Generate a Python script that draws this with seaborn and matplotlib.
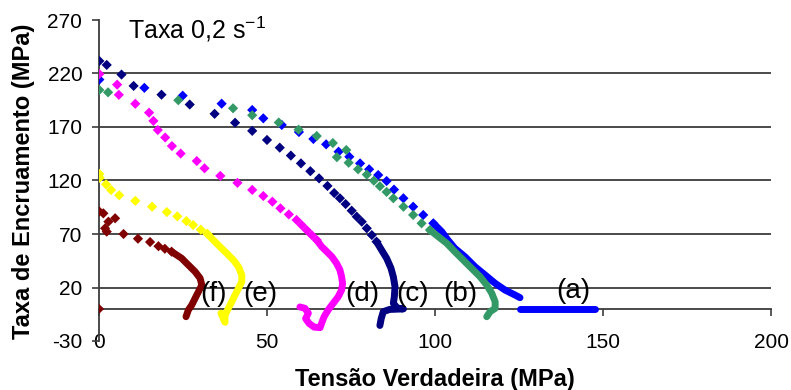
import numpy as np
import pandas as pd
import matplotlib
matplotlib.use("Agg")
import matplotlib.pyplot as plt
import seaborn as sns

# ---------------- data ----------------
series_names = ["(a)", "(b)", "(c)", "(d)", "(e)", "(f)"]
series_colors = ["#0000FF", "#339966", "#000080", "#FF00FF", "#FFFF00", "#800000"]

# (a) blue
a_dots_x = [0.1, 13.5, 24.9, 36.5, 45.6, 48.9, 54.4, 59.5, 63.8, 67.6, 71.3, 74.5, 77.7, 80.4, 83.1,
            85.6, 87.8, 90.6, 93.5, 96.5, 99.5]
a_dots_y = [214.3, 206.6, 199.3, 191.8, 185.9, 178.1, 171.9, 165.3, 158.8, 153.8, 146.9, 142.2, 136.0,
            130.5, 125.1, 119.5, 111.5, 103.4, 95.5, 87.8, 80.0]
a_line_x = [99.5, 102.0, 103.8, 105.9, 108.9, 111.9, 114.9, 117.9, 120.8, 123.8, 125.3]
a_line_y = [80.0, 72.2, 64.5, 56.6, 48.8, 39.4, 31.7, 23.9, 17.7, 13.0, 10.5]
a_flat_x = [125.3, 130.0, 135.5, 141.0, 147.5]
a_flat_y = [0.0, 0.0, 0.0, 0.0, 0.0]

# (b) green
b_dots_x = [0.1, 2.7, 23.6, 39.9, 45.6, 53.5, 59.4, 64.8, 69.6, 73.6, 70.8, 74.3, 77.1, 79.7, 81.8,
            83.6, 85.6, 87.6, 90.6, 93.5, 96.0, 98.5]
b_dots_y = [204.6, 202.4, 195.0, 187.5, 181.0, 174.2, 167.5, 161.6, 155.0, 148.5, 141.8, 136.6, 130.5,
            125.5, 119.8, 114.6, 109.3, 103.4, 95.5, 87.8, 80.0, 73.7]
b_line_x = [98.5, 101.0, 103.5, 105.9, 108.4, 110.9, 113.4, 115.4, 116.9, 117.9, 117.9, 116.4, 115.4]
b_line_y = [73.7, 67.5, 61.3, 53.5, 45.7, 37.9, 30.1, 22.3, 14.6, 6.7, 0.5, -2.6, -7.3]

# (c) navy
c_dots_x = [0.1, 2.3, 6.7, 10.3, 18.6, 27.0, 34.4, 40.5, 45.6, 50.0, 53.8, 57.1, 60.1, 62.9, 65.5,
            68.0, 70.0, 71.7, 73.4, 75.2, 76.7, 78.2, 79.7, 81.2, 82.6]
c_dots_y = [231.7, 228.0, 219.0, 208.4, 200.2, 191.0, 182.3, 174.0, 166.4, 157.9, 150.7, 143.3, 136.0,
            128.7, 122.0, 114.9, 108.3, 103.4, 98.0, 91.8, 86.2, 81.5, 75.3, 69.0, 62.8]
c_line_x = [82.6, 84.1, 85.6, 86.9, 87.6, 88.1, 87.9, 87.6, 88.8, 90.6, 86.5, 84.6, 84.0, 83.6]
c_line_y = [62.8, 55.0, 47.3, 38.0, 30.0, 20.7, 11.4, 5.2, 0.8, 0.0, -0.5, -2.6, -9.0, -15.5]

# (d) magenta
d_dots_x = [0.1, 5.4, 5.9, 10.8, 14.9, 16.2, 17.5, 19.7, 21.7, 24.3, 29.1, 31.4, 36.1, 41.2, 45.6,
            48.9, 51.6, 54.0, 56.5, 58.8, 60.3, 61.8, 63.3, 64.8]
d_dots_y = [219.5, 209.6, 200.1, 191.7, 183.4, 175.7, 167.2, 160.2, 152.2, 145.2, 138.2, 131.4, 124.3,
            117.8, 111.2, 105.5, 100.2, 94.0, 88.3, 83.1, 78.4, 73.7, 69.0, 64.4]
d_line_x = [64.8, 66.3, 67.8, 69.3, 70.7, 71.7, 72.2, 72.5, 72.2, 71.2, 69.7, 68.2, 67.0, 66.3, 65.8,
            64.0, 62.5, 61.5, 62.3, 61.3, 59.8]
d_line_y = [64.4, 58.1, 53.5, 48.8, 42.6, 36.4, 30.1, 23.9, 17.7, 11.4, 5.2, -1.0, -7.3, -13.0, -17.5,
            -17.0, -13.5, -9.0, -4.0, 0.5, 1.8]

# (e) yellow
e_dots_x = [0.1, 0.2, 2.1, 3.6, 6.0, 10.8, 15.8, 20.2, 23.3, 26.0, 28.0, 30.3, 32.2]
e_dots_y = [126.1, 122.5, 116.4, 111.1, 106.2, 101.0, 95.5, 90.5, 86.5, 82.1, 78.4, 74.0, 70.3]
e_line_x = [32.2, 34.0, 36.0, 38.0, 40.0, 41.5, 42.5, 42.5, 41.5, 40.5, 39.5, 38.5, 37.5, 37.5, 36.3]
e_line_y = [70.3, 64.4, 58.1, 52.0, 45.7, 39.4, 31.7, 25.4, 19.2, 13.0, 6.7, 0.5, -5.7, -12.5, -4.0]

# (f) dark red
f_dots_x = [0.0, 0.1, 1.3, 4.8, 2.8, 1.8, 2.3, 7.3, 11.6, 15.2, 17.7, 19.6, 21.6]
f_dots_y = [0.0, 91.0, 89.3, 84.7, 81.5, 75.3, 72.2, 70.0, 65.6, 62.5, 58.6, 56.2, 53.5]
f_line_x = [21.6, 24.6, 26.6, 28.6, 30.1, 30.6, 29.6, 28.6, 27.6, 26.6, 25.9]
f_line_y = [53.5, 47.3, 41.0, 34.8, 28.6, 22.3, 16.1, 9.9, 3.6, -1.0, -7.3]

# curve labels
label_text = ["(a)", "(b)", "(c)", "(d)", "(e)", "(f)"]
label_x = [141.2, 107.4, 93.2, 78.4, 47.9, 34.2]
label_y = [17.0, 14.0, 14.0, 14.0, 14.0, 14.0]

x_ticks = [0, 50, 100, 150, 200]
y_ticks = [-30, 20, 70, 120, 170, 220, 270]

# ---------------- build long-form tables ----------------
dots = {
    "(a)": (a_dots_x, a_dots_y), "(b)": (b_dots_x, b_dots_y), "(c)": (c_dots_x, c_dots_y),
    "(d)": (d_dots_x, d_dots_y), "(e)": (e_dots_x, e_dots_y), "(f)": (f_dots_x, f_dots_y),
}
paths = [
    ("(a)", a_line_x, a_line_y), ("(a)", a_flat_x, a_flat_y),
    ("(b)", b_line_x, b_line_y), ("(c)", c_line_x, c_line_y),
    ("(d)", d_line_x, d_line_y), ("(e)", e_line_x, e_line_y),
    ("(f)", f_line_x, f_line_y),
]
dot_df = pd.concat([pd.DataFrame({"x": v[0], "y": v[1], "serie": k}) for k, v in dots.items()],
                   ignore_index=True)
path_df = pd.concat([pd.DataFrame({"x": px, "y": py, "serie": s, "seg": i})
                     for i, (s, px, py) in enumerate(paths)], ignore_index=True)
palette = dict(zip(series_names, series_colors))

# ---------------- plot ----------------
sns.set_style("white")
plt.rcParams["font.family"] = ["Liberation Sans", "DejaVu Sans"]
plt.rcParams["mathtext.fontset"] = "custom"
plt.rcParams["mathtext.rm"] = "Liberation Sans"
plt.rcParams["mathtext.it"] = "Liberation Sans:italic"
plt.rcParams["mathtext.bf"] = "Liberation Sans:bold"
for key in ["text.color", "axes.labelcolor", "xtick.color", "ytick.color"]:
    plt.rcParams[key] = "black"

fig = plt.figure(figsize=(7.91, 3.90), dpi=100)
ax = fig.add_axes([99 / 791, 49 / 390, 672 / 791, 321 / 390])

grid_col = "#3c3c3c"
for yv in y_ticks[1:-1]:
    ax.axhline(yv, color=grid_col, lw=1.3, zorder=1)

sns.lineplot(data=path_df, x="x", y="y", hue="serie", units="seg", estimator=None, sort=False,
             palette=palette, lw=5.0, legend=False, ax=ax, zorder=3,
             solid_capstyle="round", solid_joinstyle="round")
sns.scatterplot(data=dot_df, x="x", y="y", hue="serie", palette=palette, marker="D", s=27,
                linewidth=0, legend=False, ax=ax, zorder=4)

ax.set_xlim(0, 200)
ax.set_ylim(-30, 270)
ax.set_xlabel("")
ax.set_ylabel("")
for side in ["top", "right", "bottom"]:
    ax.spines[side].set_visible(False)
ax.spines["left"].set_color(grid_col)
ax.spines["left"].set_linewidth(1.3)
ax.set_yticks(y_ticks)
ax.set_yticklabels([str(v) for v in y_ticks])
ax.tick_params(axis="y", direction="out", length=5, width=1.2, color=grid_col, pad=7,
               labelsize=15, left=True, labelcolor="black")
ax.set_xticks([])

sec = ax.secondary_xaxis(30 / 300)
sec.set_xticks(x_ticks)
sec.set_xticklabels([str(v) for v in x_ticks])
sec.spines["bottom"].set_color(grid_col)
sec.spines["bottom"].set_linewidth(1.3)
sec.tick_params(axis="x", direction="out", length=5, width=1.2, color=grid_col, pad=12.5,
                labelsize=15, labelcolor="black")

for t, lx, ly in zip(label_text, label_x, label_y):
    ax.text(lx, ly, t, fontsize=20, ha="center", va="center", zorder=5, color="black")

fig.text(128 / 791, 1 - 38 / 390, r"Taxa 0,2 s$^{\mathregular{-1}}$", fontsize=18,
         ha="left", va="baseline", color="black")
fig.text(435 / 791, 4 / 390, "Tensão Verdadeira (MPa)", fontsize=17, fontweight="bold",
         ha="center", va="baseline", color="black")
fig.text(12 / 791, 1 - 181 / 390, "Taxa de Encruamento (MPa)", fontsize=17, fontweight="bold",
         rotation=90, ha="left", va="center", color="black")

fig.savefig("out.png", dpi=100)
